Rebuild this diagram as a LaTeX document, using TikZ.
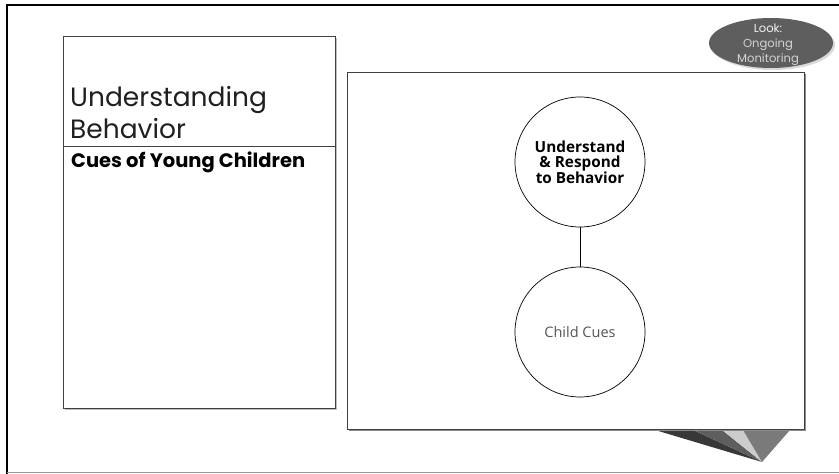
\documentclass[tikz,border=0pt]{standalone}
\usepackage{fontspec}
\usetikzlibrary{shapes.geometric}
\newfontfamily\osans{Open Sans}
\newfontfamily\gothic{Poppins}
\definecolor{ellfill}{HTML}{5E5E5E}
\definecolor{lookc}{HTML}{F2F2F2}
\definecolor{monc}{HTML}{D4D4D4}
\definecolor{cuesc}{HTML}{555555}
\tikzset{
  panel/.style={draw=black!75, line width=0.8pt, fill=white},
  bubble/.style={circle, draw=black, line width=0.7pt, minimum size=130pt, inner sep=0pt, align=center, fill=white},
  link/.style={draw=black, line width=0.7pt},
  badge/.style={ellipse, minimum width=124pt, minimum height=50pt, inner sep=0pt, align=center},
}
\begin{document}
\begin{tikzpicture}[x=1pt,y=-1pt]
\useasboundingbox (0,0) rectangle (839,474);
\fill[white] (0,0) rectangle (839,474);
% outer frame
\draw[black, line width=2.5pt] (839,5) -- (7,5) -- (7,474);
\draw[black!40, line width=1.2pt] (7,472.8) -- (839,472.8);

% bottom-right decoration
\coordinate (V) at (762,462);
\fill[black!78] (655,430) -- (693,430) -- (V) -- cycle;
\fill[black!63] (693,430) -- (722,430) -- (V) -- cycle;
\fill[black!20] (722,430) -- (743,430) -- (V) -- cycle;
\fill[black!52] (743,430) -- (790,430) -- (V) -- cycle;

% left panel
\fill[black!25] (64.5,37.5) rectangle (336.5,409.5);
\draw[panel] (63,36) rectangle (335,408);
\draw[black!75, line width=0.8pt] (63,146) -- (335,146);
\node[anchor=base west, inner sep=0pt, text=black!88, font=\gothic\fontsize{26.5}{32}\selectfont] (title) at (70,106) {Understanding};
\node[anchor=base west, inner sep=0pt, text=black!88, font=\gothic\fontsize{26.5}{32}\selectfont] (title2) at (70,138) {Behavior};
\node[anchor=base west, inner sep=0pt, font=\gothic\bfseries\fontsize{19.5}{22}\selectfont] (sub) at (71,167) {Cues of Young Children};

% right panel
\fill[black!45] (348.5,73.5) rectangle (806,431);
\draw[panel] (347,72) rectangle (804,429);

% bubbles
\node[bubble, font=\osans\bfseries\fontsize{15.3}{15.4}\selectfont] (c1) at (580,162) {Understand\\\& Respond\\to Behavior};
\node[bubble, font=\osans\fontsize{14.5}{17}\selectfont, text=cuesc] (c2) at (580,332) {Child Cues};
\draw[link] (c1) -- (c2);

% top-right badge
\node[badge, fill=black!15] (lookshadow) at (773,45) {};
\node[badge, fill=ellfill] (look) at (771,43) {};
\node[anchor=base, inner sep=0pt, text=lookc, font=\gothic\fontsize{11.6}{15}\selectfont] (look1) at (768,32) {Look:};
\node[anchor=base, inner sep=0pt, text=monc, font=\gothic\fontsize{11.6}{15}\selectfont] (look2) at (768,47) {Ongoing};
\node[anchor=base, inner sep=0pt, text=monc, font=\gothic\fontsize{11.6}{15}\selectfont] (look3) at (768,62) {Monitoring};
\end{tikzpicture}
\end{document}
